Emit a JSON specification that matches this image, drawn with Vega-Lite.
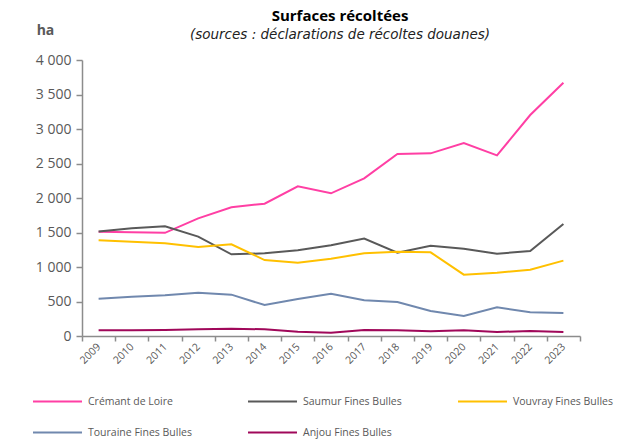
{
  "$schema": "https://vega.github.io/schema/vega-lite/v6.json",
  "autosize": "none",
  "width": 498,
  "height": 276,
  "padding": {"left": 82, "top": 60, "right": 60, "bottom": 109},
  "background": "white",
  "title": {
    "text": "Surfaces récoltées",
    "subtitle": "(sources : déclarations de récoltes douanes)",
    "anchor": "middle",
    "frame": "group",
    "dx": 9,
    "offset": -18,
    "font": "Open Sans",
    "fontSize": 15,
    "fontWeight": "bold",
    "color": "#000000",
    "subtitleFont": "DejaVu Sans",
    "subtitleFontSize": 13.5,
    "subtitleFontStyle": "italic",
    "subtitleColor": "#222222",
    "subtitlePadding": 4
  },
  "config": {
    "locale": {"number": {"decimal": ",", "thousands": "\u00a0", "grouping": [3], "currency": ["", " €"]}},
    "view": {"stroke": null},
    "font": "Open Sans"
  },
  "data": {
    "values": [
      {"year": "2009", "series": "Crémant de Loire", "value": 1510},
      {"year": "2010", "series": "Crémant de Loire", "value": 1505},
      {"year": "2011", "series": "Crémant de Loire", "value": 1495},
      {"year": "2012", "series": "Crémant de Loire", "value": 1705},
      {"year": "2013", "series": "Crémant de Loire", "value": 1865},
      {"year": "2014", "series": "Crémant de Loire", "value": 1918},
      {"year": "2015", "series": "Crémant de Loire", "value": 2169},
      {"year": "2016", "series": "Crémant de Loire", "value": 2068},
      {"year": "2017", "series": "Crémant de Loire", "value": 2285},
      {"year": "2018", "series": "Crémant de Loire", "value": 2638},
      {"year": "2019", "series": "Crémant de Loire", "value": 2647},
      {"year": "2020", "series": "Crémant de Loire", "value": 2797},
      {"year": "2021", "series": "Crémant de Loire", "value": 2618},
      {"year": "2022", "series": "Crémant de Loire", "value": 3203},
      {"year": "2023", "series": "Crémant de Loire", "value": 3671},
      {"year": "2009", "series": "Saumur Fines Bulles", "value": 1515},
      {"year": "2010", "series": "Saumur Fines Bulles", "value": 1560},
      {"year": "2011", "series": "Saumur Fines Bulles", "value": 1590},
      {"year": "2012", "series": "Saumur Fines Bulles", "value": 1440},
      {"year": "2013", "series": "Saumur Fines Bulles", "value": 1184},
      {"year": "2014", "series": "Saumur Fines Bulles", "value": 1198},
      {"year": "2015", "series": "Saumur Fines Bulles", "value": 1242},
      {"year": "2016", "series": "Saumur Fines Bulles", "value": 1314},
      {"year": "2017", "series": "Saumur Fines Bulles", "value": 1411},
      {"year": "2018", "series": "Saumur Fines Bulles", "value": 1208},
      {"year": "2019", "series": "Saumur Fines Bulles", "value": 1309},
      {"year": "2020", "series": "Saumur Fines Bulles", "value": 1266},
      {"year": "2021", "series": "Saumur Fines Bulles", "value": 1193},
      {"year": "2022", "series": "Saumur Fines Bulles", "value": 1232},
      {"year": "2023", "series": "Saumur Fines Bulles", "value": 1623},
      {"year": "2009", "series": "Vouvray Fines Bulles", "value": 1387},
      {"year": "2010", "series": "Vouvray Fines Bulles", "value": 1365},
      {"year": "2011", "series": "Vouvray Fines Bulles", "value": 1343},
      {"year": "2012", "series": "Vouvray Fines Bulles", "value": 1290},
      {"year": "2013", "series": "Vouvray Fines Bulles", "value": 1329},
      {"year": "2014", "series": "Vouvray Fines Bulles", "value": 1101},
      {"year": "2015", "series": "Vouvray Fines Bulles", "value": 1063},
      {"year": "2016", "series": "Vouvray Fines Bulles", "value": 1121},
      {"year": "2017", "series": "Vouvray Fines Bulles", "value": 1198},
      {"year": "2018", "series": "Vouvray Fines Bulles", "value": 1222},
      {"year": "2019", "series": "Vouvray Fines Bulles", "value": 1213},
      {"year": "2020", "series": "Vouvray Fines Bulles", "value": 889},
      {"year": "2021", "series": "Vouvray Fines Bulles", "value": 918},
      {"year": "2022", "series": "Vouvray Fines Bulles", "value": 961},
      {"year": "2023", "series": "Vouvray Fines Bulles", "value": 1092},
      {"year": "2009", "series": "Touraine Fines Bulles", "value": 541},
      {"year": "2010", "series": "Touraine Fines Bulles", "value": 568},
      {"year": "2011", "series": "Touraine Fines Bulles", "value": 589},
      {"year": "2012", "series": "Touraine Fines Bulles", "value": 625},
      {"year": "2013", "series": "Touraine Fines Bulles", "value": 599},
      {"year": "2014", "series": "Touraine Fines Bulles", "value": 449},
      {"year": "2015", "series": "Touraine Fines Bulles", "value": 536},
      {"year": "2016", "series": "Touraine Fines Bulles", "value": 613},
      {"year": "2017", "series": "Touraine Fines Bulles", "value": 517},
      {"year": "2018", "series": "Touraine Fines Bulles", "value": 493},
      {"year": "2019", "series": "Touraine Fines Bulles", "value": 362},
      {"year": "2020", "series": "Touraine Fines Bulles", "value": 290},
      {"year": "2021", "series": "Touraine Fines Bulles", "value": 415},
      {"year": "2022", "series": "Touraine Fines Bulles", "value": 343},
      {"year": "2023", "series": "Touraine Fines Bulles", "value": 333},
      {"year": "2009", "series": "Anjou Fines Bulles", "value": 82},
      {"year": "2010", "series": "Anjou Fines Bulles", "value": 82},
      {"year": "2011", "series": "Anjou Fines Bulles", "value": 88},
      {"year": "2012", "series": "Anjou Fines Bulles", "value": 97},
      {"year": "2013", "series": "Anjou Fines Bulles", "value": 106},
      {"year": "2014", "series": "Anjou Fines Bulles", "value": 97},
      {"year": "2015", "series": "Anjou Fines Bulles", "value": 63},
      {"year": "2016", "series": "Anjou Fines Bulles", "value": 48},
      {"year": "2017", "series": "Anjou Fines Bulles", "value": 87},
      {"year": "2018", "series": "Anjou Fines Bulles", "value": 82},
      {"year": "2019", "series": "Anjou Fines Bulles", "value": 68},
      {"year": "2020", "series": "Anjou Fines Bulles", "value": 82},
      {"year": "2021", "series": "Anjou Fines Bulles", "value": 58},
      {"year": "2022", "series": "Anjou Fines Bulles", "value": 72},
      {"year": "2023", "series": "Anjou Fines Bulles", "value": 58}
    ]
  },
  "mark": {"type": "line", "strokeWidth": 2},
  "encoding": {
    "x": {
      "field": "year",
      "type": "ordinal",
      "scale": {"type": "band", "paddingInner": 0, "paddingOuter": 0},
      "axis": {
        "title": null,
        "labelAngle": -45,
        "labelAlign": "right",
        "labelBaseline": "middle",
        "labelFontSize": 10.5,
        "labelColor": "#595959",
        "labelFont": "Open Sans",
        "labelPadding": 4,
        "tickBand": "extent",
        "tickSize": 5,
        "tickColor": "#8c8c8c",
        "tickWidth": 1.5,
        "domainColor": "#8c8c8c",
        "domainWidth": 1.5,
        "grid": false
      }
    },
    "y": {
      "field": "value",
      "type": "quantitative",
      "scale": {"domain": [0, 4000], "nice": false},
      "axis": {
        "title": "ha",
        "titleAngle": 0,
        "titleAlign": "center",
        "titleBaseline": "middle",
        "titleX": -37,
        "titleY": -30,
        "titleFontSize": 14,
        "titleFontWeight": "bold",
        "titleColor": "#595959",
        "titleFont": "Open Sans",
        "values": [0, 500, 1000, 1500, 2000, 2500, 3000, 3500, 4000],
        "format": ",.0f",
        "labelFontSize": 14,
        "labelColor": "#595959",
        "labelFont": "Open Sans",
        "labelPadding": 5,
        "tickSize": 6,
        "tickColor": "#8c8c8c",
        "tickWidth": 1.5,
        "domainColor": "#8c8c8c",
        "domainWidth": 1.5,
        "grid": false
      }
    },
    "color": {
      "field": "series",
      "type": "nominal",
      "scale": {
        "domain": ["Crémant de Loire", "Saumur Fines Bulles", "Vouvray Fines Bulles", "Touraine Fines Bulles", "Anjou Fines Bulles"],
        "range": ["#FF3FA4", "#595959", "#FFC000", "#7088AE", "#A0085A"]
      },
      "legend": {
        "title": null,
        "orient": "none",
        "legendX": -50,
        "legendY": 316,
        "direction": "horizontal",
        "columns": 3,
        "symbolType": "stroke",
        "symbolSize": 2400,
        "symbolStrokeWidth": 2,
        "labelFontSize": 10.5,
        "labelColor": "#595959",
        "labelFont": "Open Sans",
        "labelOffset": 5,
        "columnPadding": 52,
        "rowPadding": -18
      }
    }
  }
}
